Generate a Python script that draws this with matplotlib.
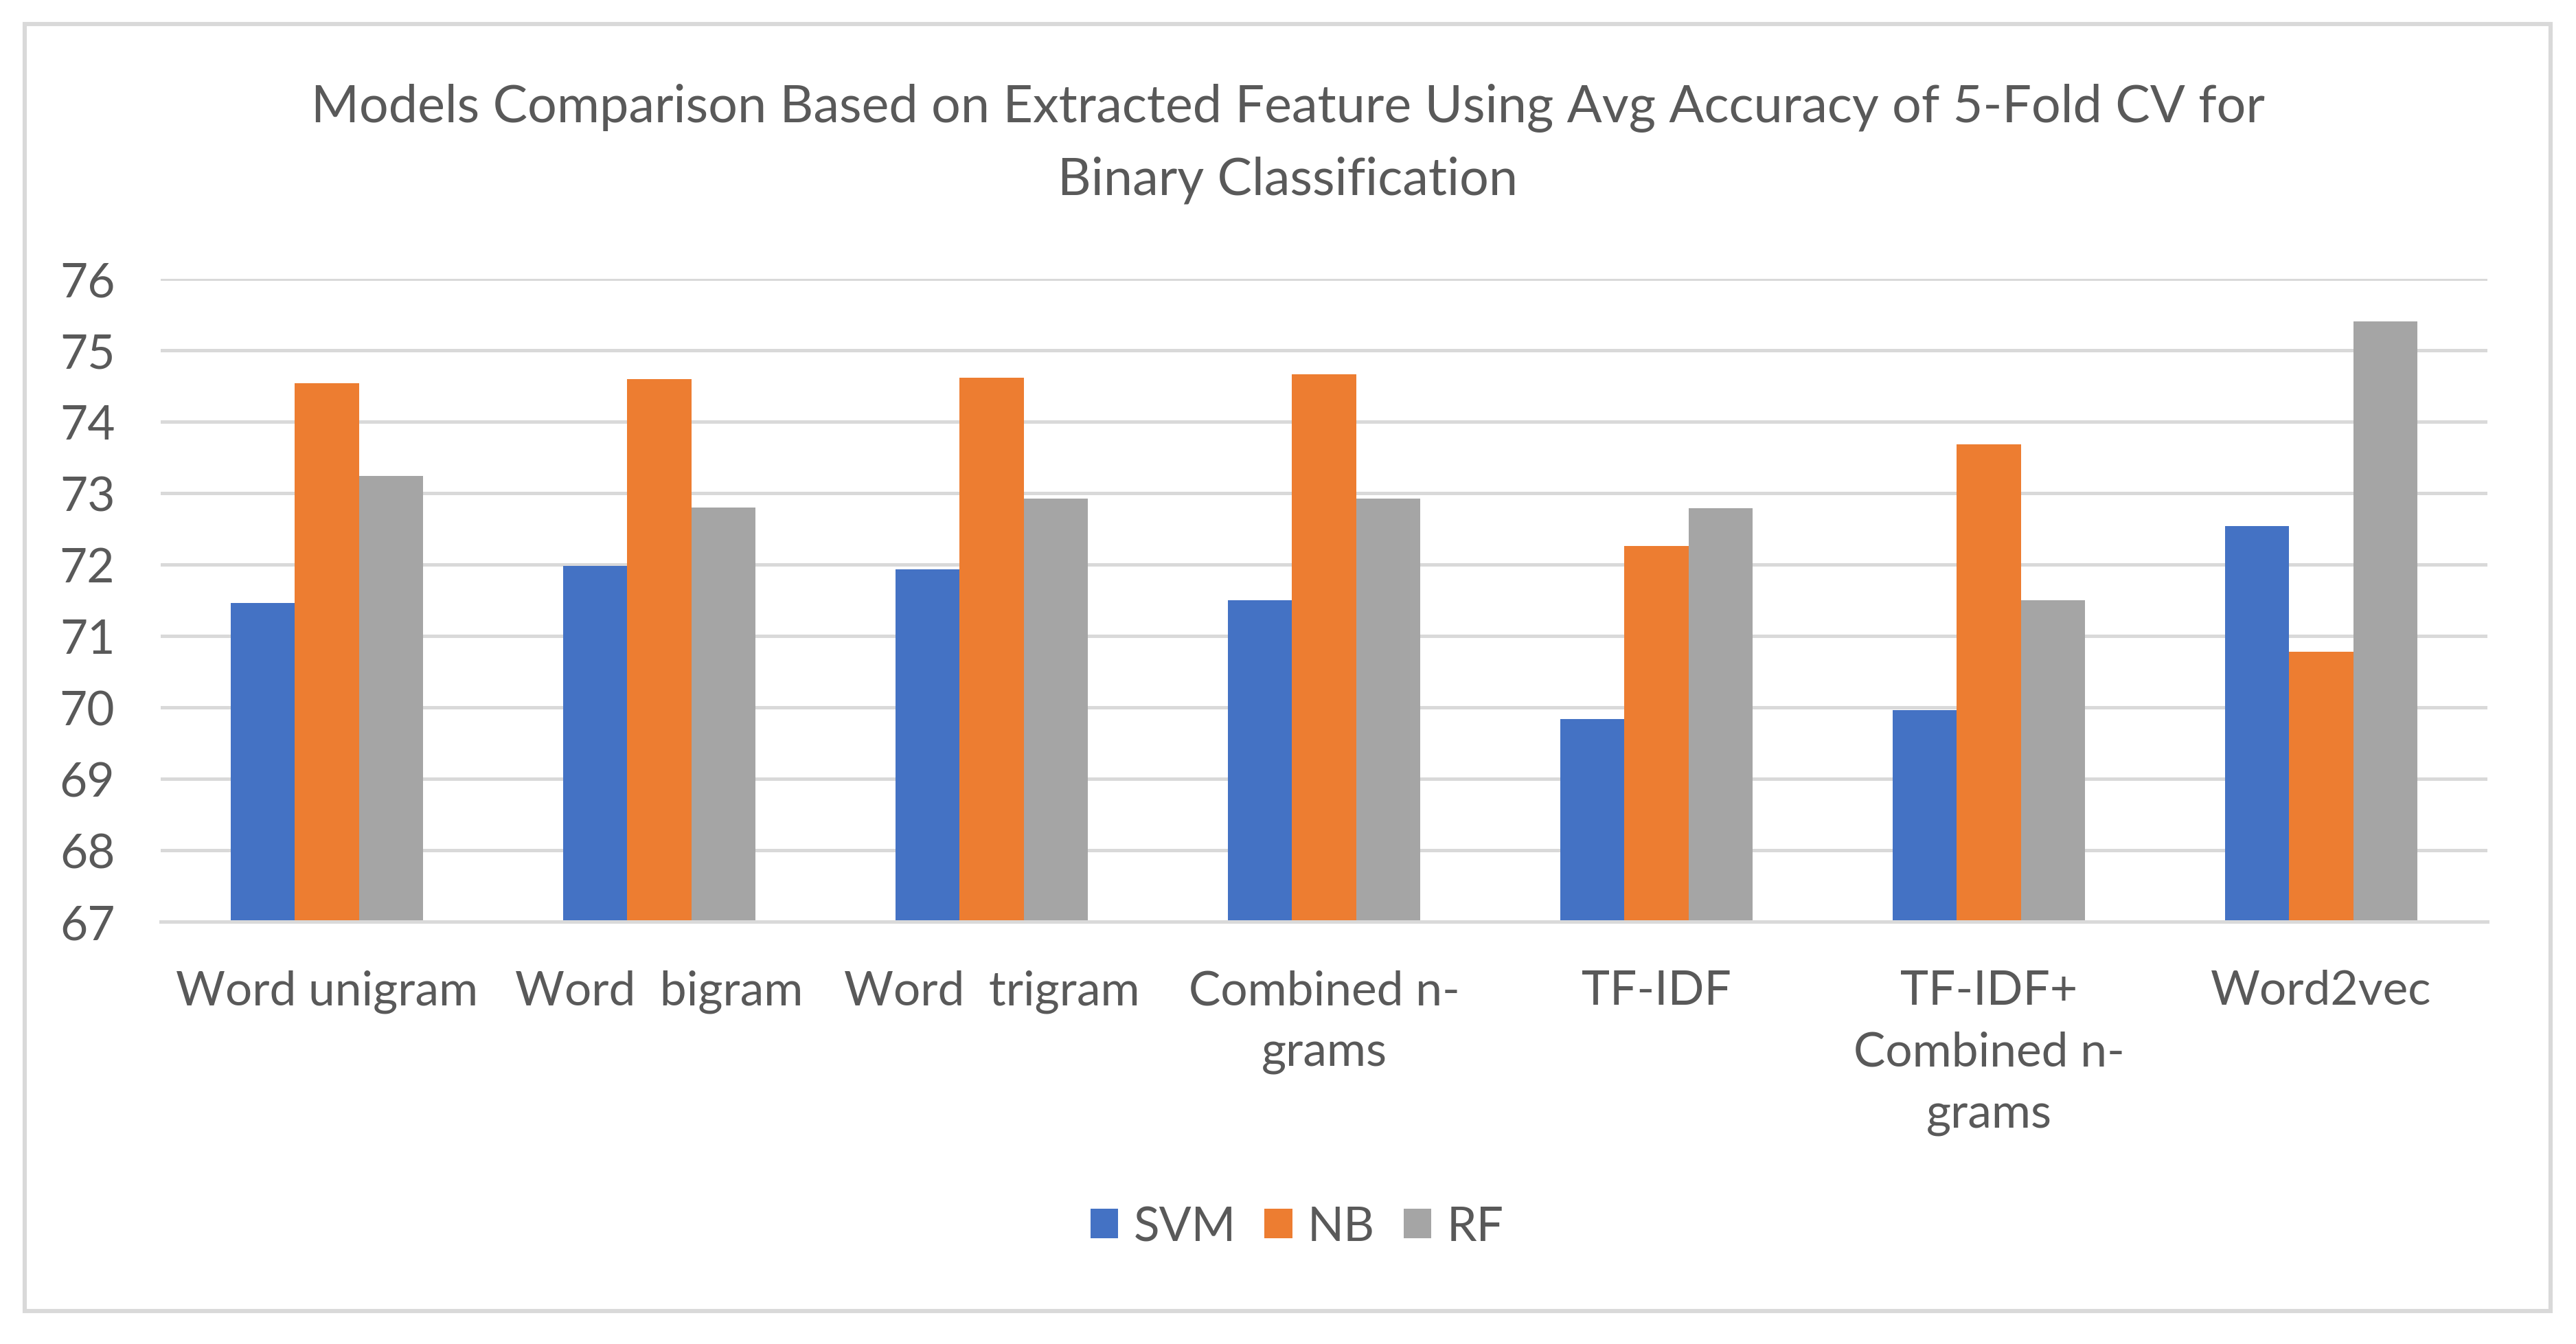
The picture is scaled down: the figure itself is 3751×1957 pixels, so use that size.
import numpy as np
import matplotlib
matplotlib.use('Agg')
import matplotlib.pyplot as plt
from matplotlib.patches import Rectangle

categories = ['Word unigram', 'Word  bigram', 'Word  trigram', 'Combined n-\ngrams',
              'TF-IDF', 'TF-IDF+\nCombined n-\ngrams', 'Word2vec']
svm = [71.46, 71.98, 71.93, 71.50, 69.84, 69.96, 72.54]
nb = [74.54, 74.60, 74.62, 74.66, 72.26, 73.68, 70.78]
rf = [73.24, 72.80, 72.92, 72.92, 72.79, 71.50, 75.40]
series_names = ['SVM', 'NB', 'RF']
y_ticks = [67, 68, 69, 70, 71, 72, 73, 74, 75, 76]

colors = ['#4472C4', '#ED7D31', '#A5A5A5']
text_color = '#595959'
grid_color = '#D9D9D9'

plt.rcParams['font.family'] = ['Lato', 'DejaVu Sans']

W, H, DPI = 3751, 1958, 200
fig = plt.figure(figsize=(W / DPI, H / DPI), dpi=DPI)
ax = fig.add_axes([234 / W, 1 - 1343 / H, (3622 - 234) / W, (1343 - 407) / H])

x = np.arange(len(categories))
width = 0.193
for i, (vals, name) in enumerate(zip([svm, nb, rf], series_names)):
    ax.bar(x + (i - 1) * width, vals, width, color=colors[i], label=name, zorder=3)

ax.set_xlim(-0.5, len(categories) - 0.5)
ax.set_ylim(67, 76)
ax.set_yticks(y_ticks)
ax.yaxis.grid(True, color=grid_color, linewidth=1.8, zorder=0)
ax.set_axisbelow(True)
for s in ['top', 'right', 'left']:
    ax.spines[s].set_visible(False)
ax.spines['bottom'].set_color(grid_color)
ax.spines['bottom'].set_linewidth(1.8)
ax.spines['bottom'].set_zorder(4)

ax.set_xticks(x)
ax.set_xticklabels(categories, linespacing=1.52)
ax.tick_params(axis='both', length=0, labelsize=25, labelcolor=text_color)
ax.tick_params(axis='y', pad=24)
ax.tick_params(axis='x', pad=25)

fig.text(0.5, 0.893,
         'Models Comparison Based on Extracted Feature Using Avg Accuracy of 5-Fold CV for\nBinary Classification',
         ha='center', va='center', fontsize=27.2, color=text_color, linespacing=1.6)

ax.legend(loc='center', bbox_to_anchor=(0.5035, 0.087), bbox_transform=fig.transFigure,
          ncol=3, frameon=False, fontsize=25, labelcolor=text_color,
          handlelength=0.58, handleheight=0.58, handletextpad=0.32, columnspacing=0.6)

fig.patches.append(Rectangle((36 / W, 1 - 1910 / H), (3714 - 36) / W, (1910 - 36) / H,
                             transform=fig.transFigure, fill=False,
                             edgecolor=grid_color, linewidth=2.2))

fig.savefig('out.png', dpi=DPI, facecolor='white')
